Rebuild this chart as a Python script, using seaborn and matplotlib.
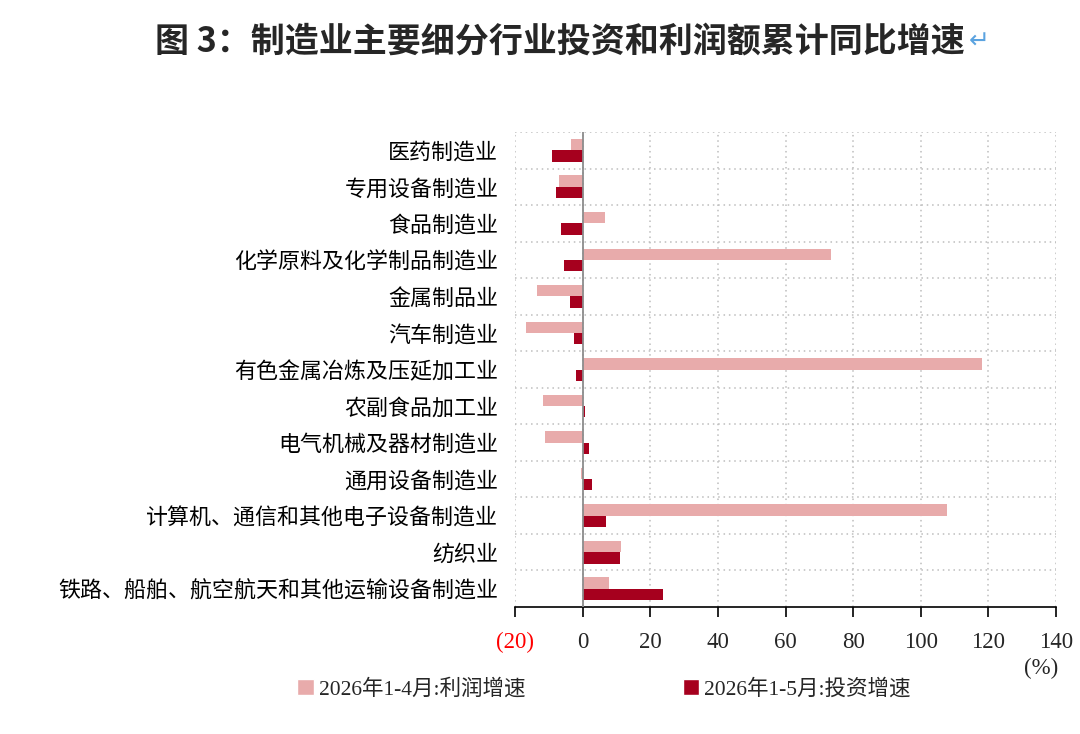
import matplotlib
matplotlib.use("Agg")
import matplotlib.pyplot as plt
from matplotlib.patches import Patch
from matplotlib.ticker import FixedLocator
import seaborn as sns
import pandas as pd

# ---- data ----
categories = [
    "医药制造业",
    "专用设备制造业",
    "食品制造业",
    "化学原料及化学制品制造业",
    "金属制品业",
    "汽车制造业",
    "有色金属冶炼及压延加工业",
    "农副食品加工业",
    "电气机械及器材制造业",
    "通用设备制造业",
    "计算机、通信和其他电子设备制造业",
    "纺织业",
    "铁路、船舶、航空航天和其他运输设备制造业",
]
profit_growth = [-3.4, -7.1, 6.7, 73.6, -13.5, -16.8, 118.2, -11.6, -11.1, -0.5, 107.7, 11.3, 7.8]
invest_growth = [-9.0, -7.8, -6.4, -5.6, -3.8, -2.6, -2.0, 0.7, 1.8, 2.9, 6.9, 11.0, 23.7]
series_names = ["2026年1-4月:利润增速", "2026年1-5月:投资增速"]
x_ticks = [-20, 0, 20, 40, 60, 80, 100, 120, 140]
x_tick_labels = ["(20)", "0", "20", "40", "60", "80", "100", "120", "140"]
title = "图 3：制造业主要细分行业投资和利润额累计同比增速"

colors = ["#E8ABAB", "#A6001E"]

df = pd.DataFrame({
    "行业": categories * 2,
    "增速": profit_growth + invest_growth,
    "系列": [series_names[0]] * len(categories) + [series_names[1]] * len(categories),
})

sns.set_theme(style="white")
plt.rcParams["font.family"] = ["Noto Sans CJK SC", "DejaVu Sans"]

fig = plt.figure(figsize=(10.8, 7.34), dpi=100)
ax = fig.add_axes([515 / 1080, 1 - 607 / 734, (1056 - 515) / 1080, (607 - 132) / 734])

sns.barplot(data=df, y="行业", x="增速", hue="系列", order=categories,
            hue_order=series_names, palette=colors, orient="h", width=0.62,
            dodge=True, ax=ax, legend=False, saturation=1, edgecolor="none")

ax.set_xlim(-20, 140)
ax.set_ylim(len(categories) - 0.5, -0.5)
ax.set_xlabel("")
ax.set_ylabel("")

# grid
ax.set_xticks(x_ticks)
ax.set_xticklabels(x_tick_labels, family=["Liberation Serif"], fontsize=16.5)
for lbl in ax.get_xticklabels():
    if lbl.get_text().startswith("("):
        lbl.set_color("#FF0000")
ax.yaxis.set_minor_locator(FixedLocator([i - 0.5 for i in range(len(categories))]))
ax.grid(True, axis="x", which="major", color="#BDBDBD", linestyle=(0, (1, 2.5)), linewidth=1.1)
ax.grid(True, axis="y", which="minor", color="#BDBDBD", linestyle=(0, (1, 2.5)), linewidth=1.1)
ax.grid(False, axis="y", which="major")
ax.set_axisbelow(True)
ax.axvline(0, color="#8C8C8C", linewidth=1.3, zorder=3)

for s in ["top", "right", "left"]:
    ax.spines[s].set_visible(False)
ax.spines["bottom"].set_color("black")
ax.spines["bottom"].set_linewidth(1.2)
ax.tick_params(axis="x", which="major", direction="out", length=7, width=1.2,
               color="black", bottom=True, pad=11)
ax.tick_params(axis="y", which="both", length=0, pad=12)
ax.set_yticks(range(len(categories)))
ax.set_yticklabels(categories, fontsize=15.8, color="black")

fig.text(1041 / 1080, 1 - 668 / 734, "(%)", family=["Liberation Serif"], fontsize=16.5,
         ha="center", va="center")

# title
fig.text(560 / 1080, 1 - 41 / 734, title, fontsize=24.5, weight="bold", ha="center", va="center")
fig.text(979 / 1080, 1 - 42 / 734, "↵", fontsize=18, color="#5BA3E0", ha="center", va="center",
         family=["DejaVu Sans"])

handles = [Patch(facecolor=colors[0]), Patch(facecolor=colors[1])]
fig.legend(handles, series_names, loc="center", bbox_to_anchor=(604 / 1080, 1 - 689 / 734),
           ncol=2, frameon=False, handlelength=0.75, handleheight=0.75, handletextpad=0.25,
           columnspacing=7.3, prop={"family": ["Liberation Serif", "Noto Sans CJK SC"], "size": 15.5})

fig.savefig("out.png", dpi=100)
